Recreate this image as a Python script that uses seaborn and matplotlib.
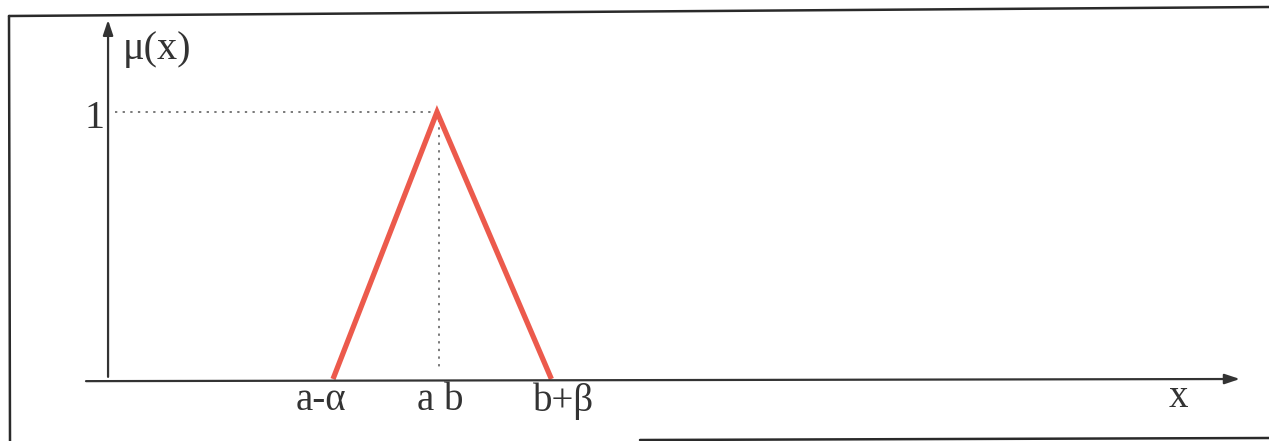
import matplotlib
matplotlib.use("Agg")
import matplotlib.pyplot as plt
import seaborn as sns
import pandas as pd
from matplotlib.lines import Line2D

# Data: triangular membership function
x_labels = ["a-\u03b1", "a b", "b+\u03b2"]
x_points = [1.0, 2.0, 3.1]          # a-alpha, a(=b), b+beta
mu_values = [0.0, 1.0, 0.0]

sns.set_style("white")
plt.rcParams['font.family'] = ['Liberation Serif', 'DejaVu Serif']

fig = plt.figure(figsize=(12.69, 4.41), dpi=100)
ax = fig.add_axes([0, 0, 1, 1])
ax.set_xlim(-2.202, 10.0)
ax.set_ylim(-0.2322, 1.4195)
ax.axis("off")

df = pd.DataFrame({"x": x_points, "mu": mu_values})
sns.lineplot(data=df, x="x", y="mu", ax=ax, color="#ec5a4c", linewidth=3.8,
             sort=False, solid_capstyle="butt", solid_joinstyle="miter", zorder=3)

# axes with arrows
y_axis_x = -1.163
ax.annotate("", xy=(y_axis_x, 1.345), xytext=(y_axis_x, 0.008),
            arrowprops=dict(arrowstyle="-|>,head_length=0.9,head_width=0.3",
                            color="#333333", lw=1.6, shrinkA=0, shrinkB=0))
ax.annotate("", xy=(9.72, 0.0), xytext=(-1.375, -0.008),
            arrowprops=dict(arrowstyle="-|>,head_length=0.9,head_width=0.3",
                            color="#333333", lw=1.6, shrinkA=0, shrinkB=0))

# dotted guides
ax.plot([y_axis_x + 0.07, x_points[1]], [1.0, 1.0], linestyle=(0, (1.5, 3.5)),
        color="#555555", lw=1.1, zorder=2)
ax.plot([x_points[1] + 0.02, x_points[1] + 0.02], [1.0, 0.03], linestyle=(0, (1.5, 3.5)),
        color="#555555", lw=1.1, zorder=2)

# labels
txt_color = "#333333"
label_x = [0.885, 2.03, 3.22]
for lx, lab in zip(label_x, x_labels):
    ax.text(lx, -0.082, lab, ha="center", va="center", fontsize=28, color=txt_color)
ax.text(9.13, -0.068, "x", ha="center", va="center", fontsize=28, color=txt_color)
ax.text(y_axis_x + 0.14, 1.235, "\u03bc(x)", ha="left", va="center", fontsize=29, color=txt_color)
ax.text(y_axis_x - 0.03, 0.975, "1", ha="right", va="center", fontsize=29, color=txt_color)

# outer frame (figure pixel coords)
W, H = 1269.0, 441.0
def fl(x0, y0, x1, y1, lw=1.8):
    fig.add_artist(Line2D([x0 / W, x1 / W], [1 - y0 / H, 1 - y1 / H],
                          color="#2a2a2a", lw=lw, transform=fig.transFigure))
fl(9, 16, 1269, 7)
fl(9, 16, 10, 441)
fl(640, 440, 1269, 438)

fig.savefig("out.png", dpi=100)
